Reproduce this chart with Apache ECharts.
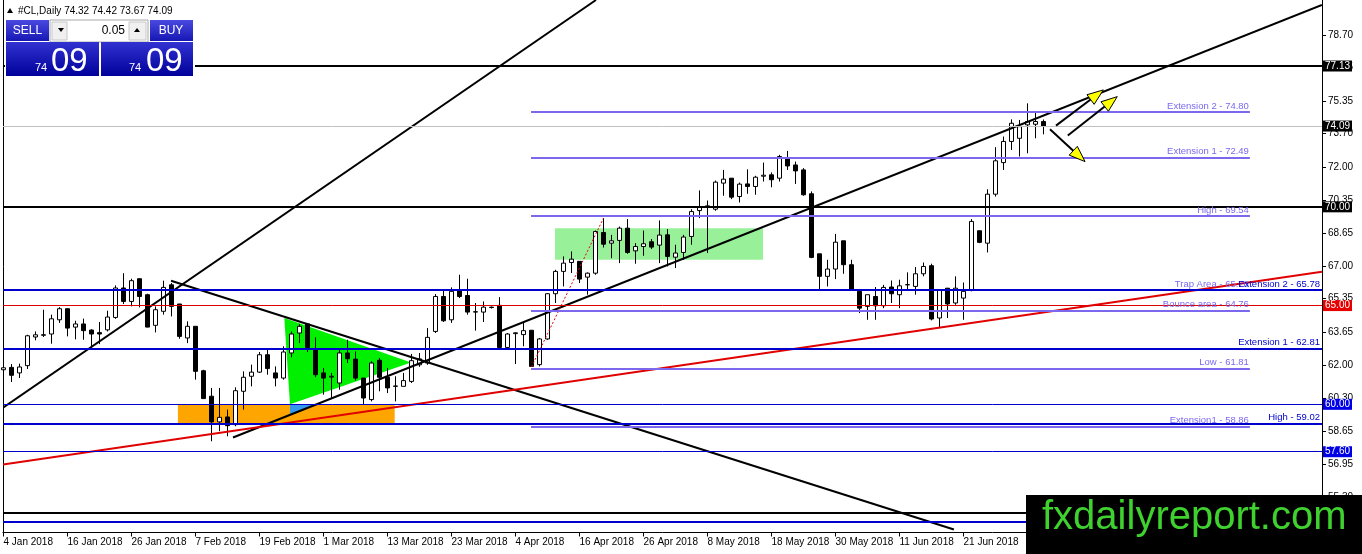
<!DOCTYPE html>
<html><head><meta charset="utf-8">
<script src="https://cdn.jsdelivr.net/npm/echarts@6/dist/echarts.min.js"></script>
<style>html,body{margin:0;padding:0;background:#fff;overflow:hidden}#c{width:1362px;height:554px}</style>
</head><body><div id="c"></div>
<script>
// ---------- DATA ----------
const dateLabels = ['4 Jan 2018','16 Jan 2018','26 Jan 2018','7 Feb 2018','19 Feb 2018','1 Mar 2018','13 Mar 2018','23 Mar 2018','4 Apr 2018','16 Apr 2018','26 Apr 2018','8 May 2018','18 May 2018','30 May 2018','11 Jun 2018','21 Jun 2018'];
const labelBars = [0,8,16,24,32,40,48,56,64,72,80,88,96,104,112,120];
const priceTicks = [55.30,56.95,58.65,60.30,62.00,63.65,65.35,67.00,68.65,70.35,72.00,73.70,75.35,77.05,78.70];

const opens = [61.75,61.87,61.59,61.96,63.41,63.52,63.56,64.28,64.84,63.91,64.07,63.76,63.63,63.77,64.40,65.89,65.21,66.36,65.55,64.00,
64.71,66.05,65.08,63.36,63.95,61.70,60.41,59.11,59.36,58.97,60.66,61.42,61.63,62.51,61.59,61.33,62.60,63.61,64.07,62.77,
61.59,61.38,61.08,62.60,62.29,61.33,60.24,62.23,61.37,60.91,60.91,61.16,62.00,62.09,63.69,65.46,64.28,65.75,65.51,64.67,
64.67,64.92,65.01,62.88,63.58,63.53,63.75,62.01,63.31,65.60,66.73,67.18,67.24,66.44,66.64,68.70,68.16,68.30,68.92,67.77,
67.99,68.23,68.06,68.58,67.45,67.69,68.50,69.81,69.98,69.88,71.20,71.45,70.52,71.16,71.03,71.55,71.62,71.45,72.46,72.12,
71.87,70.66,67.62,66.48,66.85,68.28,67.07,65.72,64.96,65.46,64.99,65.94,65.55,66.05,65.97,66.61,67.02,64.37,65.88,65.13,
65.38,65.80,68.79,68.16,70.64,72.24,73.31,73.47,74.15,74.18,74.32];
const highs = [62.15,62.04,62.06,63.52,63.69,64.79,64.54,64.92,64.84,64.23,64.34,63.80,64.17,64.74,66.02,66.64,66.36,66.36,65.60,64.96,
66.26,66.14,65.08,64.20,63.95,61.75,60.83,60.83,59.73,60.86,61.67,62.01,62.65,62.77,61.92,62.94,63.69,64.07,64.07,63.39,
61.84,61.59,62.85,63.27,62.68,61.33,62.18,62.35,61.84,61.42,61.59,62.55,62.60,63.86,65.58,65.80,65.92,66.56,66.36,65.13,
65.21,64.95,65.43,63.61,63.64,64.12,63.75,63.36,65.63,66.81,67.49,67.74,67.24,66.68,68.80,69.43,68.58,69.00,69.38,68.16,
68.80,68.37,69.31,68.87,68.08,68.58,69.88,70.83,70.32,71.33,71.87,71.45,71.23,71.90,71.57,72.24,71.74,72.63,72.83,72.29,
71.96,70.78,67.62,67.32,68.63,68.28,67.32,65.72,65.55,65.94,66.05,66.27,66.31,66.68,66.95,67.18,67.12,65.80,65.88,66.48,
66.17,69.38,68.79,70.89,73.02,73.56,74.43,74.40,75.24,74.77,74.42];
const lows = [61.50,61.13,61.33,61.79,63.24,63.41,63.07,64.12,63.44,63.29,63.27,62.88,63.05,63.69,64.33,65.08,64.96,64.91,63.90,63.64,
64.54,64.45,63.32,63.10,61.25,60.29,58.13,58.64,58.38,58.89,59.73,60.91,61.59,61.50,60.91,61.25,62.38,63.10,62.65,61.37,
60.49,60.32,60.74,62.09,61.20,60.02,60.15,60.66,60.57,60.15,60.91,61.08,61.90,62.00,63.61,64.17,64.12,65.38,64.54,63.73,
64.17,64.85,62.88,62.88,62.04,62.94,61.89,61.92,63.27,65.13,65.97,66.65,66.14,65.55,66.56,67.94,67.40,67.15,67.62,67.12,
67.52,67.86,67.15,66.98,66.90,67.32,68.08,69.43,67.66,69.80,70.56,70.39,70.22,70.66,70.61,71.28,70.99,71.28,71.87,71.16,
70.56,67.40,65.84,65.97,66.34,66.61,65.80,64.62,64.28,64.28,64.87,65.13,64.87,65.80,65.55,66.48,64.25,63.86,64.37,65.04,
64.28,65.72,68.16,67.69,70.52,71.87,72.88,72.55,72.71,73.47,73.67];
const closes = [61.85,61.47,61.89,63.47,63.52,63.50,64.33,64.84,63.86,64.07,63.73,63.56,63.56,64.42,65.89,65.21,66.26,65.46,63.91,64.79,
65.92,64.96,63.44,63.95,61.67,60.29,59.11,59.34,58.92,60.69,61.37,61.63,62.51,61.81,61.33,62.65,63.56,63.95,62.88,61.50,
61.33,61.42,62.60,62.31,61.33,60.32,62.09,61.37,60.83,60.93,61.20,62.21,62.30,63.39,65.46,64.23,65.72,65.46,64.67,64.69,
64.92,64.90,62.88,63.56,63.62,63.73,61.92,63.31,65.60,66.73,67.15,67.35,66.34,66.64,68.75,68.11,68.28,68.92,67.69,67.99,
68.13,67.96,68.57,67.49,67.66,68.47,69.76,69.97,70.05,71.25,71.40,70.49,71.15,71.03,71.50,71.60,71.37,72.55,72.07,71.82,
70.61,67.44,66.48,66.85,68.21,67.07,65.80,64.87,65.55,64.99,65.92,65.60,66.00,66.06,66.61,66.98,64.32,65.80,65.08,65.88,
65.72,69.26,68.20,70.64,72.33,73.31,74.23,74.06,74.32,74.32,74.09];

// horizontal levels
const boxedLevels = [77.13, 74.09, 70.00, 65.00, 60.00, 57.60];
const blueLevels = [65.78, 62.81, 59.02];
const blueNames = ['Extension 2', 'Extension 1', 'High'];
const fibLevels = [74.80, 72.49, 69.54, 65.78, 64.76, 61.81, 58.86];
const fibNames = ['Extension 2', 'Extension 1', 'High', 'Trap Area', 'Bounce area', 'Low', 'Extension1'];
const fibSpan = [65.94, 155.8];           // bar range of the fibo lines
const bottomLevels = [54.53, 54.06];

// drawn objects in (bar, price) space
const blackTrends = [[-0.06, 59.83, 74.06, 80.47], [20.94, 66.26, 118.8, 53.66], [28.69, 58.32, 164.8, 80.22]];
const redTrend = [[-0.06, 56.95, 164.8, 66.71]];
const redDotted = [[66, 61.89, 75, 69.43]];
const triangles = [[35.10, 64.37, 35.81, 60.00, 50.94, 62.12], [35.81, 60.00, 39.38, 60.00, 35.81, 59.46]];
const orangeZone = [21.8, 60.00, 48.9, 59.02];
const greenZone = [68.94, 68.92, 94.94, 67.32];
const arrows = [[131.56, 74.11, 137.48, 75.92], [133.04, 73.61, 139.22, 75.58], [130.81, 73.93, 135.19, 72.29]];

// ---------- STYLE ----------
const FONT = '"Liberation Sans", Arial, sans-serif';
const BLUE = '#0000cd';
const PURPLE = '#7b68ee';
const boxedStyle = [
  {line:'#000', w:2, bg:'#000'}, {line:'#c0c0c0', w:1, bg:'#000'}, {line:'#000', w:2, bg:'#000'},
  {line:'#dd0000', w:1, bg:'#e60000'}, {line:BLUE, w:1, bg:'#0000e6'}, {line:BLUE, w:1, bg:'#0000e6'}
];
const triColors = ['#00f000', '#3399ee'];
const yMin = 53.51, yMax = 80.472;

const candles = opens.map((o, k) => [k, o, closes[k], lows[k], highs[k]]);

const mlData = [];
fibLevels.forEach((v, k) => {
  mlData.push([
    {coord: [fibSpan[0], v], lineStyle: {color: PURPLE, width: 2, type: 'solid'},
     label: {show: true, position: 'insideEndTop', distance: [1, 1], formatter: fibNames[k] + ' - ' + v.toFixed(2),
             color: PURPLE, fontSize: 9.5, fontFamily: FONT}},
    {coord: [fibSpan[1], v]}
  ]);
});
bottomLevels.forEach((v, k) => {
  mlData.push({yAxis: v, lineStyle: {color: k === 0 ? '#000' : BLUE, width: 2, type: 'solid'}, label: {show: false}});
});
boxedLevels.forEach((v, k) => {
  const s = boxedStyle[k];
  mlData.push({yAxis: v, lineStyle: {color: s.line, width: s.w, type: 'solid'},
    label: {show: true, position: 'end', distance: 1, formatter: v.toFixed(2), color: '#fff',
            backgroundColor: s.bg, padding: [1, 2, 0, 2], fontSize: 10, fontFamily: FONT}});
});
blueLevels.forEach((v, k) => {
  mlData.push({yAxis: v, lineStyle: {color: BLUE, width: 2, type: 'solid'},
    label: {show: true, position: 'insideEndTop', distance: [2, 1], formatter: blueNames[k] + ' - ' + v.toFixed(2),
            color: BLUE, fontSize: 9.5, fontFamily: FONT}});
});

function segRender(color, width, dash) {
  return function (params, api) {
    const a = api.coord([api.value(0), api.value(1)]);
    const b = api.coord([api.value(2), api.value(3)]);
    return {type: 'line', shape: {x1: a[0], y1: a[1], x2: b[0], y2: b[1]},
            style: {stroke: color, lineWidth: width, lineDash: dash || null}};
  };
}

function blueGrad(c1, c2) {
  return new echarts.graphic.LinearGradient(0, 0, 0, 1, [{offset: 0, color: c1}, {offset: 1, color: c2}]);
}

const chart = echarts.init(document.getElementById('c'));
chart.setOption({
  animation: false,
  backgroundColor: '#fff',
  textStyle: {fontFamily: FONT},
  grid: {left: 3, right: 40, top: 0, bottom: 21.5, containLabel: false, outerBoundsMode: 'none'},
  xAxis: {
    type: 'value', min: -0.0625, max: 164.8125,
    axisLine: {show: true, onZero: false, lineStyle: {color: '#000', width: 1}},
    axisTick: {show: true, customValues: labelBars, length: 4, lineStyle: {color: '#000'}},
    axisLabel: {show: true, customValues: labelBars, formatter: v => dateLabels[labelBars.indexOf(Math.round(v))] || '',
                align: 'left', margin: 5, color: '#000', fontSize: 10, fontFamily: FONT},
    splitLine: {show: false}
  },
  yAxis: [
    {type: 'value', position: 'right', min: yMin, max: yMax,
     axisLine: {show: true, onZero: false, lineStyle: {color: '#000', width: 1}},
     axisTick: {show: true, customValues: priceTicks, length: 4, lineStyle: {color: '#000'}},
     axisLabel: {show: true, customValues: priceTicks, formatter: v => v.toFixed(2), margin: 6,
                 color: '#000', fontSize: 10, fontFamily: FONT},
     splitLine: {show: false}},
    {type: 'value', position: 'left', min: yMin, max: yMax,
     axisLine: {show: true, onZero: false, lineStyle: {color: '#000', width: 1}},
     axisTick: {show: false}, axisLabel: {show: false}, splitLine: {show: false}}
  ],
  series: [
    {
      type: 'custom', name: 'triangles', coordinateSystem: 'cartesian2d', z: 1.5, silent: true, clip: true,
      encode: {x: [0, 2, 4], y: [1, 3, 5]},
      data: triangles,
      renderItem: function (params, api) {
        const pts = [0, 2, 4].map(j => api.coord([api.value(j), api.value(j + 1)]));
        return {type: 'polygon', shape: {points: pts}, style: {fill: triColors[params.dataIndex]}};
      }
    },
    {
      type: 'candlestick', name: '#CL,Daily', z: 2, barWidth: 5, silent: true,
      data: candles,
      itemStyle: {color: '#fff', color0: '#000', borderColor: '#000', borderColor0: '#000', borderWidth: 1},
      markArea: {
        silent: true, z: 1,
        data: [
          [{xAxis: orangeZone[0], yAxis: orangeZone[1], itemStyle: {color: '#ffa500'}}, {xAxis: orangeZone[2], yAxis: orangeZone[3]}],
          [{xAxis: greenZone[0], yAxis: greenZone[1], itemStyle: {color: '#98f098'}}, {xAxis: greenZone[2], yAxis: greenZone[3]}]
        ]
      }
    },
    {
      type: 'custom', name: 'trend', coordinateSystem: 'cartesian2d', z: 3, silent: true, clip: true,
      encode: {x: [0, 2], y: [1, 3]}, data: blackTrends, renderItem: segRender('#000', 2)
    },
    {
      type: 'custom', name: 'redTrend', coordinateSystem: 'cartesian2d', z: 3, silent: true, clip: true,
      encode: {x: [0, 2], y: [1, 3]}, data: redTrend, renderItem: segRender('#e00000', 2)
    },
    {
      type: 'custom', name: 'redDotted', coordinateSystem: 'cartesian2d', z: 3, silent: true, clip: true,
      encode: {x: [0, 2], y: [1, 3]}, data: redDotted, renderItem: segRender('#e00000', 1, [2, 2])
    },
    {
      type: 'line', name: 'levels', data: [], clip: false, silent: true, z: 4,
      markLine: {silent: true, symbol: ['none', 'none'], z: 5, animation: false, data: mlData}
    },
    {
      type: 'custom', name: 'arrows', coordinateSystem: 'cartesian2d', z: 6, silent: true, clip: false,
      encode: {x: [0, 2], y: [1, 3]}, data: arrows,
      renderItem: function (params, api) {
        const a = api.coord([api.value(0), api.value(1)]);
        const b = api.coord([api.value(2), api.value(3)]);
        const dx = b[0] - a[0], dy = b[1] - a[1];
        const len = Math.sqrt(dx * dx + dy * dy);
        const ux = dx / len, uy = dy / len;
        const hl = 16, hw = 6;
        const base = [b[0] - ux * hl, b[1] - uy * hl];
        const p1 = [base[0] - uy * hw, base[1] + ux * hw];
        const p2 = [base[0] + uy * hw, base[1] - ux * hw];
        return {type: 'group', children: [
          {type: 'line', shape: {x1: a[0], y1: a[1], x2: base[0], y2: base[1]}, style: {stroke: '#000', lineWidth: 2}},
          {type: 'polygon', shape: {points: [b, p1, p2]}, style: {fill: '#ffff00', stroke: '#000', lineWidth: 1}}
        ]};
      }
    }
  ],
  graphic: [
    // header
    {type: 'polygon', z: 100, shape: {points: [[7, 13], [10, 8], [13, 13]]}, style: {fill: '#000'}},
    {type: 'text', z: 100, style: {x: 18, y: 11, text: '#CL,Daily 74.32 74.42 73.67 74.09', fill: '#000',
      fontSize: 10, fontFamily: FONT, verticalAlign: 'middle'}},
    // trade panel
    {type: 'rect', z: 100, shape: {x: 5, y: 19, width: 190, height: 58}, style: {fill: '#fff'}},
    {type: 'rect', z: 101, shape: {x: 6, y: 20, width: 43, height: 21}, style: {fill: blueGrad('#4a4ae0', '#1616b4')}},
    {type: 'text', z: 102, style: {x: 27.5, y: 30.5, text: 'SELL', fill: '#fff', fontSize: 12, fontFamily: FONT, align: 'center', verticalAlign: 'middle'}},
    {type: 'rect', z: 101, shape: {x: 50, y: 20, width: 98, height: 22}, style: {fill: '#fff', stroke: '#a8a8a8', lineWidth: 1}},
    {type: 'rect', z: 102, shape: {x: 52, y: 22, width: 15, height: 18}, style: {fill: '#f0f0f0', stroke: '#c8c8c8', lineWidth: 1}},
    {type: 'polygon', z: 103, shape: {points: [[58, 28], [64, 28], [61, 32]]}, style: {fill: '#000'}},
    {type: 'text', z: 102, style: {x: 125, y: 30.5, text: '0.05', fill: '#000', fontSize: 12, fontFamily: FONT, align: 'right', verticalAlign: 'middle'}},
    {type: 'rect', z: 102, shape: {x: 129, y: 22, width: 17, height: 18}, style: {fill: '#f0f0f0', stroke: '#c8c8c8', lineWidth: 1}},
    {type: 'polygon', z: 103, shape: {points: [[134, 32], [140, 32], [137, 28]]}, style: {fill: '#000'}},
    {type: 'rect', z: 101, shape: {x: 150, y: 20, width: 43, height: 21}, style: {fill: blueGrad('#4a4ae0', '#1616b4')}},
    {type: 'text', z: 102, style: {x: 171, y: 30.5, text: 'BUY', fill: '#fff', fontSize: 12, fontFamily: FONT, align: 'center', verticalAlign: 'middle'}},
    {type: 'rect', z: 101, shape: {x: 6, y: 42, width: 93, height: 34}, style: {fill: blueGrad('#3232d2', '#00009a')}},
    {type: 'rect', z: 101, shape: {x: 101, y: 42, width: 92, height: 34}, style: {fill: blueGrad('#3232d2', '#00009a')}},
    {type: 'text', z: 102, style: {x: 35, y: 68, text: '74', fill: '#fff', fontSize: 11, fontFamily: FONT, verticalAlign: 'middle'}},
    {type: 'text', z: 102, style: {x: 51, y: 62, text: '09', fill: '#fff', fontSize: 33, fontFamily: FONT, verticalAlign: 'middle'}},
    {type: 'text', z: 102, style: {x: 129, y: 68, text: '74', fill: '#fff', fontSize: 11, fontFamily: FONT, verticalAlign: 'middle'}},
    {type: 'text', z: 102, style: {x: 146, y: 62, text: '09', fill: '#fff', fontSize: 33, fontFamily: FONT, verticalAlign: 'middle'}},
    // watermark
    {type: 'rect', z: 110, shape: {x: 1026, y: 495, width: 336, height: 59}, style: {fill: '#000'}},
    {type: 'text', z: 111, style: {x: 1042, y: 518, text: 'fxdailyreport.com', fill: '#3fd22f', fontSize: 40, fontFamily: FONT, verticalAlign: 'middle'}}
  ]
});
</script></body></html>
